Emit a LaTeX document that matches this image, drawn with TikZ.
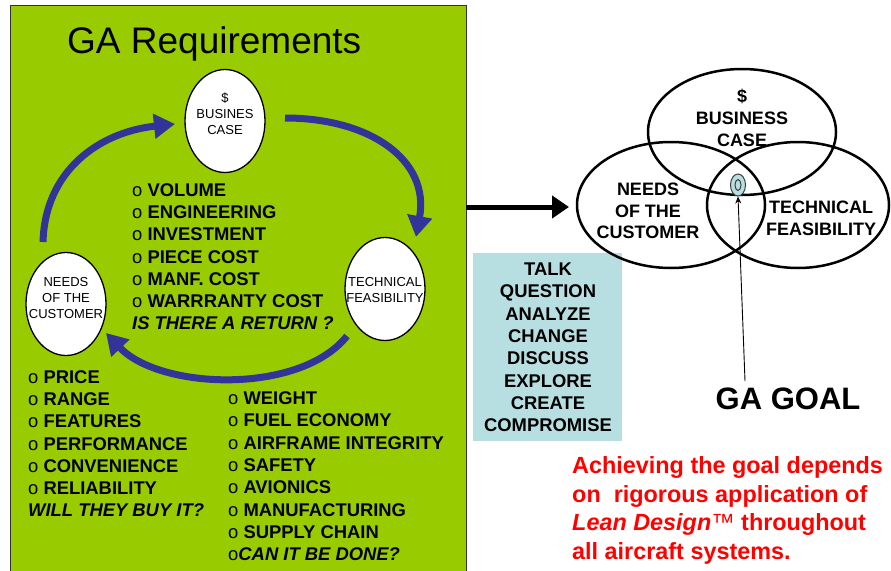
\documentclass[tikz,border=0pt]{standalone}
\usepackage{fontspec}
\setmainfont{Liberation Sans}
\usetikzlibrary{shapes.geometric,arrows.meta}
\definecolor{gagreen}{HTML}{99CC00}
\definecolor{gablue}{HTML}{333399}
\definecolor{galight}{HTML}{B7DEE1}
\definecolor{gared}{HTML}{FF0000}
\tikzset{
 bubble/.style={ellipse, draw=black, line width=1.3pt, fill=white, minimum width=80pt, minimum height=103pt, inner sep=0pt},
 bubtxt/.style={font=\fontsize{13}{16}\selectfont, align=center, inner sep=0pt},
 item/.style={font=\fontsize{18.4}{22}\selectfont, anchor=base west, inner sep=0pt},
 cyclearrow/.style={draw=gablue, line width=7pt, -{Triangle[length=21pt,width=24pt]}},
 vennell/.style={ellipse, draw=black, line width=2.5pt, minimum width=188pt, minimum height=126pt, inner sep=0pt},
 venntxt/.style={font=\fontsize{18}{21.8}\selectfont\bfseries, align=center, inner sep=0pt},
 boxtxt/.style={font=\fontsize{18.4}{22}\selectfont\bfseries, anchor=base, inner sep=0pt},
 redtxt/.style={font=\fontsize{23.4}{28}\selectfont\bfseries, text=gared, anchor=base west, inner sep=0pt},
}
\begin{document}
\begin{tikzpicture}[x=1pt,y=-1pt]
\useasboundingbox (0,0) rectangle (891,570);
\fill[white] (0,0) rectangle (891,570);
% green panel
\node[draw=black!80, line width=0.8pt, fill=gagreen, minimum width=456pt, minimum height=572pt, anchor=north west, inner sep=0pt] (panel) at (10,5) {};
\node[font=\fontsize{37}{44}\selectfont, anchor=base west, inner sep=0pt] (title) at (67,53) {GA Requirements};
% bubbles
\node[bubble] (bc) at (225,121) {};
\node[bubtxt] (bct) at (225,114) {\$\\BUSINES\\CASE};
\node[bubble] (tf) at (385,289) {};
\node[bubtxt] (tft) at (385,290) {TECHNICAL\\FEASIBILITY};
\node[bubble] (nc) at (66,304) {};
\node[bubtxt] (nct) at (66,298) {NEEDS\\OF THE\\CUSTOMER};
% cycle arrows
\coordinate (a1s) at (43,242); \coordinate (a1e) at (175,124);
\draw[cyclearrow] (a1s) .. controls (45,170) and (100,132) .. (a1e);
\coordinate (a2s) at (285,118); \coordinate (a2e) at (416,237);
\draw[cyclearrow] (a2s) .. controls (370,118) and (430,160) .. (a2e);
\coordinate (a3s) at (347,336); \coordinate (a3e) at (106,333);
\draw[cyclearrow] (a3s) .. controls (300,395) and (160,390) .. (a3e);
% middle list
\foreach \t [count=\i] in {{o \textbf{VOLUME}},{o \textbf{ENGINEERING}},{o \textbf{INVESTMENT}},{o \textbf{PIECE COST}},{o \textbf{MANF. COST}},{o \textbf{WARRRANTY COST}},{\textbf{\textit{IS THERE A RETURN ?}}}}
  \node[item] (m\i) at (132,{196.6+22.17*(\i-1)}) {\t};
% left list
\foreach \t [count=\i] in {{o \textbf{PRICE}},{o \textbf{RANGE}},{o \textbf{FEATURES}},{o \textbf{PERFORMANCE}},{o \textbf{CONVENIENCE}},{o \textbf{RELIABILITY}},{\textbf{\textit{WILL THEY BUY IT?}}}}
  \node[item] (l\i) at (28,{383.6+22.17*(\i-1)}) {\t};
% right list
\foreach \t [count=\i] in {{o \textbf{WEIGHT}},{o \textbf{FUEL ECONOMY}},{o \textbf{AIRFRAME INTEGRITY}},{o \textbf{SAFETY}},{o \textbf{AVIONICS}},{o \textbf{MANUFACTURING}},{o \textbf{SUPPLY CHAIN}},{o\textbf{\textit{CAN IT BE DONE?}}}}
  \node[item] (r\i) at (228,{404.6+22.3*(\i-1)}) {\t};
% black arrow
\coordinate (ba) at (466,207); \coordinate (bb) at (569,207);
\draw[line width=5pt, -{Triangle[length=17pt,width=22pt]}] (ba) -- (bb);
% light blue box
\node[fill=galight, minimum width=149pt, minimum height=188pt, anchor=north west, inner sep=0pt] (talk) at (473,253) {};
\foreach \t [count=\i] in {TALK,QUESTION,ANALYZE,CHANGE,DISCUSS,EXPLORE,CREATE,COMPROMISE}
  \node[boxtxt] (b\i) at (548,{275.6+22.3*(\i-1)}) {\t};
% venn
\node[vennell] (vb) at (742,132) {};
\node[vennell] (vn) at (671,205) {};
\node[vennell, minimum width=182pt] (vt) at (798,205) {};
\node[venntxt] (vbt) at (742,118) {\$\\BUSINESS\\CASE};
\node[venntxt] (vnt) at (648,211) {NEEDS\\OF THE\\CUSTOMER};
\node[venntxt] (vtt) at (821,218) {TECHNICAL\\FEASIBILITY};
% goal
\node[ellipse, draw=black!75, line width=1pt, fill=galight, minimum width=15pt, minimum height=22pt, inner sep=0pt] (gl) at (738,185) {};
\node[ellipse, draw=black!75, line width=1pt, minimum width=6pt, minimum height=11pt, inner sep=0pt] (gli) at (738,185) {};
\coordinate (gp) at (745,381);
\draw[line width=0.9pt, -{Stealth[length=7pt,width=6pt]}] (gp) -- (gl.south);
\node[font=\fontsize{31}{36}\selectfont\bfseries, anchor=base, inner sep=0pt] (goal) at (788,409) {GA GOAL};
% red text
\node[redtxt] (t1) at (572,473) {Achieving the goal depends};
\node[redtxt] (t2) at (572,502) {on\ \ rigorous application of};
\node[redtxt] (t3) at (572,530) {\textit{Lean Design}{\mdseries ™} throughout};
\node[redtxt] (t4) at (572,559) {all aircraft systems.};
\end{tikzpicture}
\end{document}
